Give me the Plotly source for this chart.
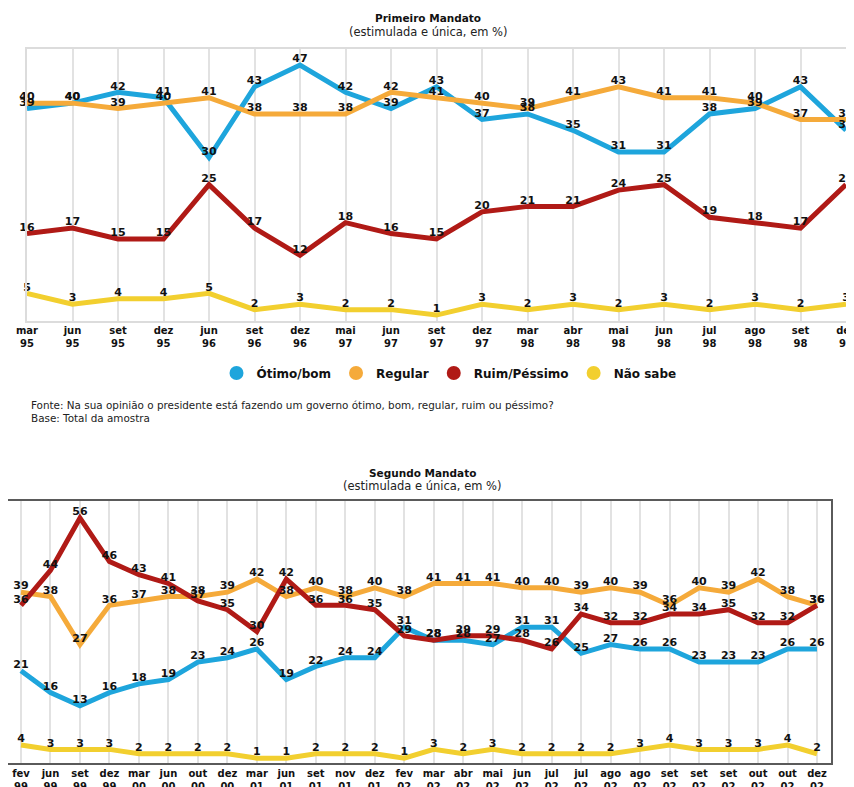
import plotly.graph_objects as go

# ---------------- DATA ----------------
cats1 = ["mar<br>95", "jun<br>95", "set<br>95", "dez<br>95", "jun<br>96", "set<br>96", "dez<br>96",
         "mai<br>97", "jun<br>97", "set<br>97", "dez<br>97", "mar<br>98", "abr<br>98", "mai<br>98",
         "jun<br>98", "jul<br>98", "ago<br>98", "set<br>98", "dez<br>98"]
otimo1 = [39, 40, 42, 41, 30, 43, 47, 42, 39, 43, 37, 38, 35, 31, 31, 38, 39, 43, 35]
regular1 = [40, 40, 39, 40, 41, 38, 38, 38, 42, 41, 40, 39, 41, 43, 41, 41, 40, 37, 37]
ruim1 = [16, 17, 15, 15, 25, 17, 12, 18, 16, 15, 20, 21, 21, 24, 25, 19, 18, 17, 25]
naosabe1 = [5, 3, 4, 4, 5, 2, 3, 2, 2, 1, 3, 2, 3, 2, 3, 2, 3, 2, 3]

cats2 = ["fev<br>99", "jun<br>99", "set<br>99", "dez<br>99", "mar<br>00", "jun<br>00", "out<br>00",
         "dez<br>00", "mar<br>01", "jun<br>01", "set<br>01", "nov<br>01", "dez<br>01", "fev<br>02",
         "mar<br>02", "abr<br>02", "mai<br>02", "jun<br>02", "jul<br>02", "jul<br>02", "ago<br>02",
         "ago<br>02", "set<br>02", "set<br>02", "set<br>02", "out<br>02", "out<br>02", "dez<br>02"]
otimo2 = [21, 16, 13, 16, 18, 19, 23, 24, 26, 19, 22, 24, 24, 31, 28, 28, 27, 31, 31, 25, 27, 26, 26, 23, 23, 23, 26, 26]
regular2 = [39, 38, 27, 36, 37, 38, 38, 39, 42, 38, 40, 38, 40, 38, 41, 41, 41, 40, 40, 39, 40, 39, 36, 40, 39, 42, 38, 36]
ruim2 = [36, 44, 56, 46, 43, 41, 37, 35, 30, 42, 36, 36, 35, 29, 28, 29, 29, 28, 26, 34, 32, 32, 34, 34, 35, 32, 32, 36]
naosabe2 = [4, 3, 3, 3, 2, 2, 2, 2, 1, 1, 2, 2, 2, 1, 3, 2, 3, 2, 2, 2, 2, 3, 4, 3, 3, 3, 4, 2]

series_names = ["Ótimo/bom", "Regular", "Ruim/Péssimo", "Não sabe"]
colors = ["#1ea5dc", "#f5aa3a", "#b01a16", "#f2cf2f"]

W, H = 854, 787
OFF = 8  # page body margin
LABEL_FONT = dict(family="DejaVu Sans", size=11, color="#111111", weight="bold")
TICK_FONT = dict(family="DejaVu Sans", size=10, color="#111111", weight="bold")

fig = go.Figure()

panels = [
    (list(range(len(cats1))), [otimo1, regular1, ruim1, naosabe1], "x", "y"),
    (list(range(len(cats2))), [otimo2, regular2, ruim2, naosabe2], "x2", "y2"),
]

for xs, data, xa, ya in panels:
    for vals, col in zip(data, colors):
        fig.add_trace(go.Scatter(x=xs, y=vals, mode="lines", xaxis=xa, yaxis=ya,
                                 line=dict(color=col, width=5), showlegend=False,
                                 hoverinfo="skip"))
    for vals in data:
        fig.add_trace(go.Scatter(x=xs, y=vals, mode="text", xaxis=xa, yaxis=ya,
                                 text=[str(v) for v in vals], textposition="top center",
                                 textfont=LABEL_FONT, cliponaxis=False, showlegend=False,
                                 hoverinfo="skip"))

# legend-only entries
for name, col in zip(series_names, colors):
    fig.add_trace(go.Scatter(x=[None], y=[None], mode="markers", name=name,
                             marker=dict(color=col, size=14, symbol="circle"),
                             xaxis="x", yaxis="y"))

def px_x(p):
    return min(max((p - OFF) / W, 0.0), 1.0)

def px_y(p):
    return min(max(1 - (p - OFF) / H, 0.0), 1.0)

# bottom panel: first category at screen x=21, frame starts at screen x=8
step2 = (817 - 21) / (len(cats2) - 1)
x2_left = (OFF - 21) / step2
x2_right = (831 - 21) / step2

fig.update_layout(
    template="none",
    width=W, height=H,
    margin=dict(l=0, r=0, t=0, b=0, autoexpand=False),
    paper_bgcolor="white", plot_bgcolor="white",
    showlegend=True,
    legend=dict(orientation="h", x=px_x(449), xanchor="center", y=px_y(373), yanchor="middle",
                font=dict(family="DejaVu Sans", size=12, color="#111111", weight="bold"),
                itemsizing="trace", bgcolor="rgba(0,0,0,0)"),
    xaxis=dict(domain=[px_x(27), px_x(846)], range=[0, len(cats1) - 1], automargin=False,
               tickmode="array", tickvals=list(range(len(cats1))), ticktext=cats1,
               tickfont=TICK_FONT, ticks="", showgrid=True, gridcolor="#e2e2e2", gridwidth=1.5,
               showline=True, linecolor="#dcdcdc", linewidth=1.5, mirror=True, zeroline=False,
               anchor="y"),
    yaxis=dict(domain=[px_y(320.5), px_y(48.8)], range=[0, 50], showticklabels=False,
               automargin=False,
               showgrid=False, zeroline=False, showline=True, linecolor="#dcdcdc",
               linewidth=1.5, mirror=True, anchor="x"),
    xaxis2=dict(domain=[px_x(OFF), px_x(831)], range=[x2_left, x2_right], automargin=False,
                tickmode="array", tickvals=list(range(len(cats2))), ticktext=cats2,
                tickfont=TICK_FONT, ticks="", showgrid=True, gridcolor="#e2e2e2", gridwidth=1.5,
                showline=True, linecolor="#5a5a5a", linewidth=2, mirror=True, zeroline=False,
                anchor="y2"),
    yaxis2=dict(domain=[px_y(762.5), px_y(500.5)], range=[0, 60], showticklabels=False,
                automargin=False,
                showgrid=False, zeroline=False, showline=True, linecolor="#5a5a5a",
                linewidth=2, mirror=True, anchor="x2"),
)

TITLE_FONT = dict(family="DejaVu Sans", size=10.5, color="#111111", weight="bold")
SUB_FONT = dict(family="DejaVu Sans", size=11.5, color="#222222")
annots = [
    ("Primeiro Mandato", 428, 18, TITLE_FONT),
    ("(estimulada e única, em %)", 428, 32, SUB_FONT),
    ("Segundo Mandato", 422, 473, TITLE_FONT),
    ("(estimulada e única, em %)", 422, 486, SUB_FONT),
]
for txt, x, y, f in annots:
    fig.add_annotation(text=txt, x=px_x(x), y=px_y(y), xref="paper", yref="paper",
                       xanchor="center", yanchor="middle", showarrow=False, font=f)

FOOT_FONT = dict(family="DejaVu Sans", size=10.4, color="#222222")
fig.add_annotation(text="Fonte: Na sua opinião o presidente está fazendo um governo ótimo, bom, regular, ruim ou péssimo?",
                   x=px_x(29), y=px_y(405), xref="paper", yref="paper", xanchor="left",
                   yanchor="middle", showarrow=False, font=FOOT_FONT)
fig.add_annotation(text="Base: Total da amostra",
                   x=px_x(29), y=px_y(418), xref="paper", yref="paper", xanchor="left",
                   yanchor="middle", showarrow=False, font=FOOT_FONT)

fig.write_html("out.html")
